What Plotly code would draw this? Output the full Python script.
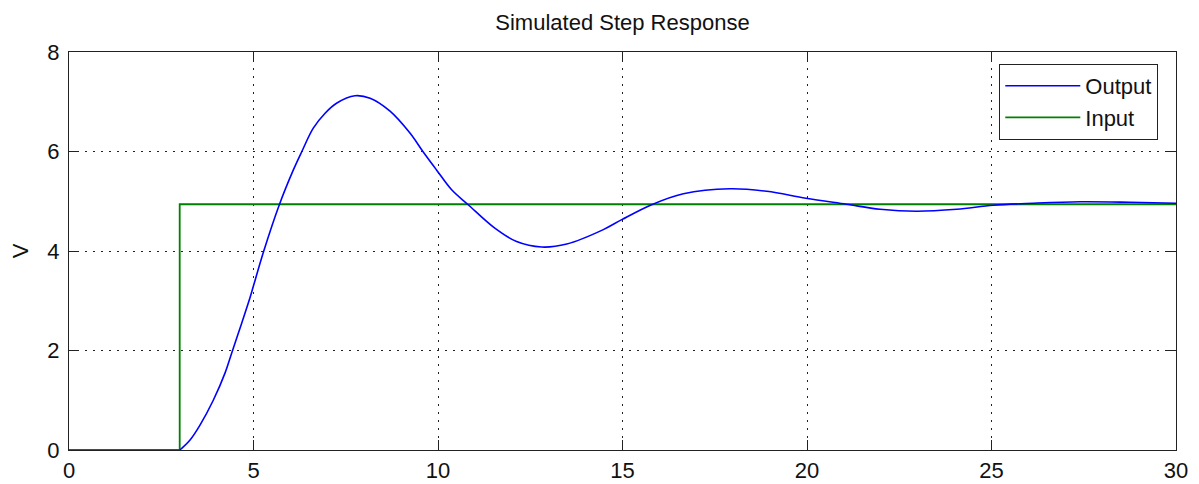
import plotly.graph_objects as go

# Data
t_out = [3.0, 3.05, 3.28, 3.55, 3.91, 4.23, 4.41, 4.68, 4.9, 5.0, 5.27, 5.70, 6.08, 6.31,
         6.62, 6.94, 7.25, 7.75, 8.16, 8.70, 9.24, 9.60, 9.96, 10.37, 10.82, 11.54, 12.13,
         12.81, 13.49, 14.48, 14.98, 15.79, 16.65, 17.91, 18.91, 19.97, 21.07, 21.98,
         22.97, 24.06, 25.05, 26.13, 27.4, 28.75, 30.0]
v_out = [0.0, 0.03, 0.2, 0.5, 1.0, 1.55, 1.95, 2.55, 3.05, 3.3, 3.98, 4.93, 5.63, 6.0,
         6.47, 6.77, 6.97, 7.12, 7.07, 6.81, 6.37, 5.99, 5.63, 5.23, 4.93, 4.46, 4.19,
         4.08, 4.14, 4.43, 4.63, 4.93, 5.15, 5.25, 5.20, 5.06, 4.94, 4.84,
         4.80, 4.84, 4.92, 4.96, 4.99, 4.98, 4.96]
t_in = [0, 3, 3, 30]
v_in = [0, 0, 4.94, 4.94]

FONT = "Liberation Sans, Arial, sans-serif"

fig = go.Figure()
fig.add_trace(go.Scatter(x=t_in, y=v_in, mode="lines", name="Input",
                         line=dict(color="#008000", width=1.8), legendrank=2))
fig.add_trace(go.Scatter(x=t_out, y=v_out, mode="lines", name="Output",
                         line=dict(color="#0000FF", width=1.6, shape="spline", smoothing=1.0),
                         legendrank=1))

axis_common = dict(showline=True, linecolor="#222", linewidth=1.2, mirror="ticks",
                   ticks="inside", ticklen=10, tickcolor="#222", showgrid=True,
                   gridcolor="#222", gridwidth=1, griddash="2px,6px", zeroline=False,
                   automargin=False,
                   tickfont=dict(family=FONT, size=22, color="#111"))

fig.update_xaxes(range=[0, 30], dtick=5, tick0=0, **axis_common)
fig.update_yaxes(range=[0, 8], dtick=2, tick0=0, ticklabelstandoff=4,
                 title=dict(text="V", font=dict(family=FONT, size=22, color="#111"), standoff=18),
                 **axis_common)

fig.update_layout(
    width=1191, height=476,
    margin=dict(l=61, r=23, t=44, b=34),
    plot_bgcolor="white", paper_bgcolor="white",
    title=dict(text="Simulated Step Response", x=0.5, xref="paper", xanchor="center",
               y=1 - 14 / 476, yanchor="middle",
               font=dict(family=FONT, size=22, color="#111")),
    legend=dict(x=0.984, y=0.97, xanchor="right", yanchor="top",
                bordercolor="#222", borderwidth=1, bgcolor="white",
                font=dict(family=FONT, size=22, color="#111"),
                itemwidth=75, tracegroupgap=0),
    showlegend=True,
)

fig.write_html("out.html")
